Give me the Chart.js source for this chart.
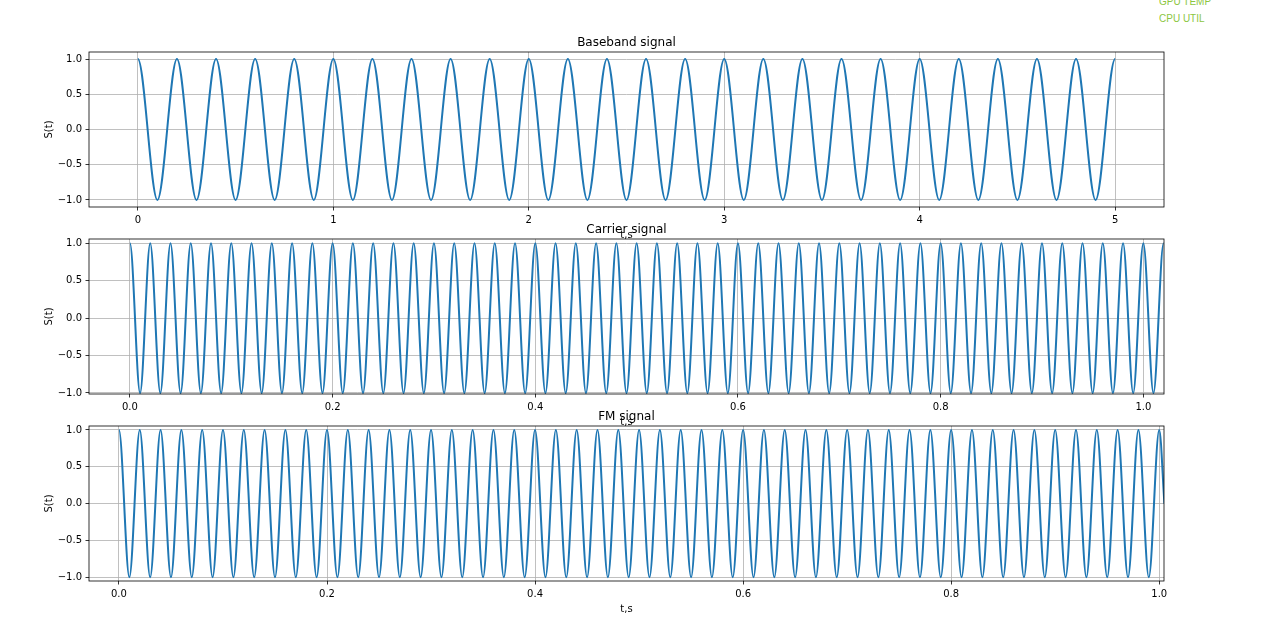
<!DOCTYPE html>
<html><head><meta charset="utf-8">
<script src="https://cdn.jsdelivr.net/npm/chart.js@4/dist/chart.umd.min.js"></script>
<style>
html,body{margin:0;padding:0;background:#fff;width:1279px;height:639px;overflow:hidden;position:relative;}
canvas{position:absolute;left:0;top:0;}
.hud{position:absolute;left:1159px;font:10px "Liberation Sans",Arial,sans-serif;color:#8cc63f;white-space:nowrap;}
</style></head><body>
<div class="hud" style="top:-4px">GPU TEMP</div>
<div class="hud" style="top:13px">CPU UTIL</div>
<canvas id="c1" width="1279" height="639"></canvas>
<canvas id="c2" width="1279" height="639"></canvas>
<canvas id="c3" width="1279" height="639"></canvas>
<script>
// ---- data (extrema of each signal) ----
const basebandT = [0,0.1,0.2,0.3,0.4,0.5,0.6,0.7,0.8,0.9,
  1.0,1.1,1.2,1.3,1.4,1.5,1.6,1.7,1.8,1.9,
  2.0,2.1,2.2,2.3,2.4,2.5,2.6,2.7,2.8,2.9,
  3.0,3.1,3.2,3.3,3.4,3.5,3.6,3.7,3.8,3.9,
  4.0,4.1,4.2,4.3,4.4,4.5,4.6,4.7,4.8,4.9,5.0];
const basebandS = [1,-1,1,-1,1,-1,1,-1,1,-1,
  1,-1,1,-1,1,-1,1,-1,1,-1,
  1,-1,1,-1,1,-1,1,-1,1,-1,
  1,-1,1,-1,1,-1,1,-1,1,-1,
  1,-1,1,-1,1,-1,1,-1,1,-1,1];

const carrierT = [0,0.01,0.02,0.03,0.04,0.05,0.06,0.07,0.08,0.09,
  0.10,0.11,0.12,0.13,0.14,0.15,0.16,0.17,0.18,0.19,
  0.20,0.21,0.22,0.23,0.24,0.25,0.26,0.27,0.28,0.29,
  0.30,0.31,0.32,0.33,0.34,0.35,0.36,0.37,0.38,0.39,
  0.40,0.41,0.42,0.43,0.44,0.45,0.46,0.47,0.48,0.49,
  0.50,0.51,0.52,0.53,0.54,0.55,0.56,0.57,0.58,0.59,
  0.60,0.61,0.62,0.63,0.64,0.65,0.66,0.67,0.68,0.69,
  0.70,0.71,0.72,0.73,0.74,0.75,0.76,0.77,0.78,0.79,
  0.80,0.81,0.82,0.83,0.84,0.85,0.86,0.87,0.88,0.89,
  0.90,0.91,0.92,0.93,0.94,0.95,0.96,0.97,0.98,0.99,
  1.00,1.01,1.02];
const carrierS = [1,-1,1,-1,1,-1,1,-1,1,-1,
  1,-1,1,-1,1,-1,1,-1,1,-1,
  1,-1,1,-1,1,-1,1,-1,1,-1,
  1,-1,1,-1,1,-1,1,-1,1,-1,
  1,-1,1,-1,1,-1,1,-1,1,-1,
  1,-1,1,-1,1,-1,1,-1,1,-1,
  1,-1,1,-1,1,-1,1,-1,1,-1,
  1,-1,1,-1,1,-1,1,-1,1,-1,
  1,-1,1,-1,1,-1,1,-1,1,-1,
  1,-1,1,-1,1,-1,1,-1,1,-1,
  1,-1,1];

const fmT = [0,0.01,0.02,0.03,0.04,0.05,0.06,0.07,0.08,0.09,
  0.10,0.11,0.12,0.13,0.14,0.15,0.16,0.17,0.18,0.19,
  0.20,0.21,0.22,0.23,0.24,0.25,0.26,0.27,0.28,0.29,
  0.30,0.31,0.32,0.33,0.34,0.35,0.36,0.37,0.38,0.39,
  0.40,0.41,0.42,0.43,0.44,0.45,0.46,0.47,0.48,0.49,
  0.50,0.51,0.52,0.53,0.54,0.55,0.56,0.57,0.58,0.59,
  0.60,0.61,0.62,0.63,0.64,0.65,0.66,0.67,0.68,0.69,
  0.70,0.71,0.72,0.73,0.74,0.75,0.76,0.77,0.78,0.79,
  0.80,0.81,0.82,0.83,0.84,0.85,0.86,0.87,0.88,0.89,
  0.90,0.91,0.92,0.93,0.94,0.95,0.96,0.97,0.98,0.99,
  1.00,1.005];
const fmS = [1,-1,1,-1,1,-1,1,-1,1,-1,
  1,-1,1,-1,1,-1,1,-1,1,-1,
  1,-1,1,-1,1,-1,1,-1,1,-1,
  1,-1,1,-1,1,-1,1,-1,1,-1,
  1,-1,1,-1,1,-1,1,-1,1,-1,
  1,-1,1,-1,1,-1,1,-1,1,-1,
  1,-1,1,-1,1,-1,1,-1,1,-1,
  1,-1,1,-1,1,-1,1,-1,1,-1,
  1,-1,1,-1,1,-1,1,-1,1,-1,
  1,-1,1,-1,1,-1,1,-1,1,-1,
  1,0];

// ---- tick values and labels ----
const basebandXTicks = [0,1,2,3,4,5];
const basebandXLabels = ['0','1','2','3','4','5'];
const shortXTicks = [0,0.2,0.4,0.6,0.8,1.0];
const shortXLabels = ['0.0','0.2','0.4','0.6','0.8','1.0'];
const yTicks = [-1,-0.5,0,0.5,1];
const yLabels = ['\u22121.0','\u22120.5','0.0','0.5','1.0'];

const titles = ['Baseband signal','Carrier signal','FM signal'];
const xAxisTitle = 't,s';
const yAxisTitle = 'S(t)';

Chart.defaults.font.family = "'DejaVu Sans'";
Chart.defaults.color = '#000';

const spines = {id:'spines', afterDatasetsDraw(chart){
  const {ctx, chartArea:a} = chart;
  ctx.save(); ctx.strokeStyle='#000'; ctx.lineWidth=0.8;
  ctx.strokeRect(a.left, a.top, a.right-a.left, a.bottom-a.top);
  ctx.restore();
}};
// make curve ends that sit on a crest leave horizontally (like a cosine crest)
const flatEnds = {id:'flatEnds', beforeDatasetDraw(chart, args){
  const line = args.meta.dataset;
  if (!line || !line.updateControlPoints) return;
  line.updateControlPoints(chart.chartArea, 'x');
  const pts = line.points, n = pts.length;
  const d = chart.data.datasets[args.index].data;
  if (Math.abs(d[0].y) === 1) pts[0].cp2y = pts[0].y;
  if (Math.abs(d[n-1].y) === 1) pts[n-1].cp1y = pts[n-1].y;
}};

const XBOX = 34;
function makeChart(id, o){
  const pts = o.t.map((t,i)=>({x:t, y:o.s[i]}));
  return new Chart(document.getElementById(id), {
    type:'line',
    data:{datasets:[{data:pts, borderColor:'#1f77b4', borderWidth:2, pointRadius:0,
      cubicInterpolationMode:'monotone', fill:false}]},
    plugins:[spines, flatEnds],
    options:{
      responsive:false, animation:false, devicePixelRatio:1,
      layout:{padding:{left:0, right:115, top:o.top-16, bottom:639-(o.bottom+XBOX)}},
      plugins:{
        legend:{display:false}, tooltip:{enabled:false},
        title:{display:true, text:o.title, fullSize:false, color:'#000',
          font:{size:12, weight:'normal'}, padding:{top:0, bottom:1.6}}
      },
      scales:{
        x:{type:'linear', min:o.xMin, max:o.xMax, bounds:'data',
          afterBuildTicks:s=>{ s.ticks = o.xTicks.map(v=>({value:v})); },
          afterFit:s=>{ s.height = XBOX; },
          ticks:{autoSkip:false, maxRotation:0, padding:3.5, color:'#000', font:{size:10},
            callback:(v,i)=>o.xLabels[i]},
          grid:{color:'#b0b0b0', lineWidth:0.8, drawTicks:true, tickLength:3.5, tickColor:'#000', tickWidth:0.8},
          border:{display:false},
          title:{display:true, text:xAxisTitle, color:'#000', font:{size:10}, padding:0}
        },
        y:{type:'linear', min:o.yMin, max:o.yMax, bounds:'data',
          afterBuildTicks:s=>{ s.ticks = yTicks.map(v=>({value:v})); },
          afterFit:s=>{ s.width = 89; },
          ticks:{autoSkip:false, padding:3.5, color:'#000', font:{size:10},
            callback:(v,i)=>yLabels[i]},
          grid:{color:'#b0b0b0', lineWidth:0.8, drawTicks:true, tickLength:3.5, tickColor:'#000', tickWidth:0.8},
          border:{display:false},
          title:{display:true, text:yAxisTitle, color:'#000', font:{size:10}, padding:{top:43, bottom:0}}
        }
      }
    }
  });
}

makeChart('c1', {t:basebandT, s:basebandS, title:titles[0], top:52, bottom:207,
  xMin:-0.25, xMax:5.25, xTicks:basebandXTicks, xLabels:basebandXLabels, yMin:-1.1, yMax:1.1});
makeChart('c2', {t:carrierT, s:carrierS, title:titles[1], top:239, bottom:394,
  xMin:-0.0404, xMax:1.0204, xTicks:shortXTicks, xLabels:shortXLabels, yMin:-1.0134, yMax:1.0574});
makeChart('c3', {t:fmT, s:fmS, title:titles[2], top:426, bottom:581,
  xMin:-0.0288, xMax:1.0046, xTicks:shortXTicks, xLabels:shortXLabels, yMin:-1.0502, yMax:1.0543});
</script>
</body></html>
